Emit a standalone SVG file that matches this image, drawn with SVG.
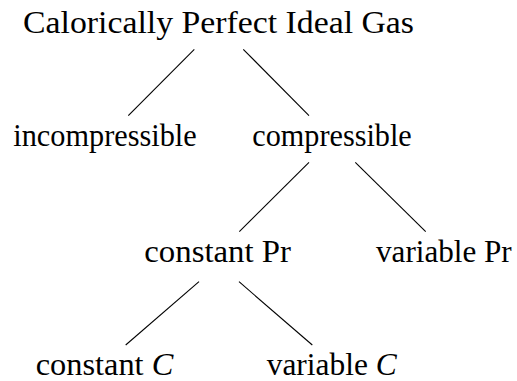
<svg xmlns="http://www.w3.org/2000/svg" width="517" height="381" viewBox="0 0 517 381">
<style>
.lbl{font-family:"Liberation Serif","Times New Roman",serif;font-size:32px;fill:#000}
.it{font-style:italic}
.edge{stroke:#000;stroke-width:1.1;fill:none}
</style>
<rect width="517" height="381" fill="#fff"/>
<g id="connectors">
<line class="edge" x1="194.3" y1="49.3" x2="128.3" y2="115.7"/>
<line class="edge" x1="243.3" y1="49.3" x2="309" y2="115.7"/>
<line class="edge" x1="309" y1="162.3" x2="239.3" y2="231.7"/>
<line class="edge" x1="355.3" y1="162.3" x2="425.7" y2="231.7"/>
<line class="edge" x1="199" y1="281.7" x2="125.7" y2="345"/>
<line class="edge" x1="239" y1="281.7" x2="312.3" y2="345"/>
</g>
<g id="n-root"><text class="lbl" x="23" y="33.3" textLength="391" lengthAdjust="spacingAndGlyphs">Calorically Perfect Ideal Gas</text></g>
<g id="n-incompressible"><text class="lbl" x="13.3" y="145.7" textLength="183.4" lengthAdjust="spacingAndGlyphs">incompressible</text></g>
<g id="n-compressible"><text class="lbl" x="252.3" y="145.7" textLength="159.4" lengthAdjust="spacingAndGlyphs">compressible</text></g>
<g id="n-constPr"><text class="lbl" x="144.3" y="262.3" textLength="146.7" lengthAdjust="spacingAndGlyphs">constant Pr</text></g>
<g id="n-varPr"><text class="lbl" x="376" y="262.3" textLength="135.7" lengthAdjust="spacingAndGlyphs">variable Pr</text></g>
<g id="n-constC"><text class="lbl" x="35.7" y="375" textLength="137.6" lengthAdjust="spacingAndGlyphs">constant <tspan class="it">C</tspan></text></g>
<g id="n-varC"><text class="lbl" x="266.7" y="375" textLength="130" lengthAdjust="spacingAndGlyphs">variable <tspan class="it">C</tspan></text></g>
</svg>
